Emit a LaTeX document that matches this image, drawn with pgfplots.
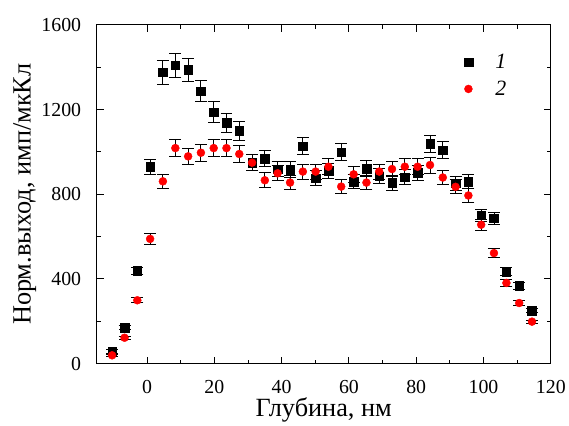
\documentclass[border=0pt]{standalone}
\usepackage{fontspec}
\setmainfont{Liberation Serif}
\newfontfamily\tnr{Liberation Serif}
\usepackage{pgfplots}
\usepackage{pgfplotstable}
\pgfplotsset{compat=1.18}

% black squares (1)
\pgfplotstableread{
x y e
-10.4 57 8
-6.7 170 10
-2.9 438 18
0.9 929 37
4.7 1376 55
8.4 1409 56
12.2 1388 55
16.0 1287 51
19.8 1188 48
23.6 1137 45
27.4 1099 44
31.2 950 38
35.0 969 39
38.8 919 37
42.5 916 37
46.3 1027 41
50.1 876 35
53.9 911 36
57.7 999 40
61.4 860 34
65.2 921 37
69.0 886 35
72.8 854 34
76.6 880 35
80.4 902 36
84.1 1038 42
87.9 1008 40
91.7 852 34
95.5 860 34
99.3 700 28
103.1 686 27
106.8 435 17
110.6 367 15
114.4 250 10
}\seriesA

% red circles (2)
\pgfplotstableread{
x y e
-10.4 39 6
-6.7 122 7
-2.9 299 12
0.9 589 24
4.7 861 34
8.4 1018 41
12.2 979 39
16.0 996 40
19.8 1018 41
23.6 1018 41
27.4 990 40
31.2 949 38
35.0 866 35
38.8 899 36
42.5 855 34
46.3 907 36
50.1 907 36
53.9 930 37
57.7 836 33
61.4 894 36
65.2 855 34
69.0 907 36
72.8 919 37
76.6 930 37
80.4 930 37
84.1 938 38
87.9 879 35
91.7 835 33
95.5 794 32
99.3 656 26
103.1 522 21
106.8 381 15
110.6 286 11
114.4 198 8
}\seriesB

\begin{document}
\begin{tikzpicture}
\begin{axis}[
  scale only axis, width=456bp, height=340bp,
  xmin=-15, xmax=120, ymin=0, ymax=1600,
  xtick={0,20,...,120}, minor x tick num=1,
  ytick={0,400,...,1600}, minor y tick num=1,
  xtick pos=both, ytick pos=both,
  xticklabel pos=lower, yticklabel pos=left,
  tick align=inside, major tick length=7bp, minor tick length=4bp,
  axis line style={line width=1.2bp},
  every tick/.style={black, line width=1bp},
  xticklabel={\pgfmathprintnumber{\tick}},
  yticklabel={\pgfmathprintnumber{\tick}},
  tick label style={font=\tnr\fontsize{20}{24}\selectfont},
  xticklabel style={yshift=-13bp},
  yticklabel style={xshift=-12bp},
  /pgf/number format/assume math mode=true,
  /pgf/number format/1000 sep={},
  scaled ticks=false,
  xlabel={Глубина, нм},
  ylabel={Норм.выход, имп/мкКл},
  label style={font=\tnr\fontsize{26.5}{30}\selectfont},
  xlabel style={at={(axis description cs:0.5,-0.137)}, anchor=center},
  ylabel style={at={(axis description cs:-0.158,0.5)}, anchor=center, rotate=0},
  legend style={draw=none, fill=none, at={(rel axis cs:0.793,0.926)}, anchor=north west,
    font=\tnr\fontsize{22}{26}\selectfont\itshape, row sep=7bp},
  legend cell align=left,
  legend image code/.code={\draw[#1] plot coordinates {(0.3cm,0cm)}; \path[draw=none] (0,0) (1.18cm,0);},
]
\addplot[only marks, mark=square*, mark size=4.3bp, black, mark options={fill=black},
  error bars/.cd, y dir=both, y explicit,
  error bar style={black, line width=0.9bp},
  error mark options={rotate=90, mark size=6bp, black, line width=0.9bp}]
  table[x=x, y=y, y error=e] \seriesA;
\addlegendentry{1}
\addplot[only marks, mark=*, mark size=4bp, red, mark options={fill=red, draw=red},
  error bars/.cd, y dir=both, y explicit,
  error bar style={black, line width=0.9bp},
  error mark options={rotate=90, mark size=6bp, black, line width=0.9bp}]
  table[x=x, y=y, y error=e] \seriesB;
\addlegendentry{2}
\end{axis}
\path ([shift={(-97bp,-60bp)}]current axis.south west) rectangle ([shift={(16bp,25bp)}]current axis.north east);
\end{tikzpicture}
\end{document}
